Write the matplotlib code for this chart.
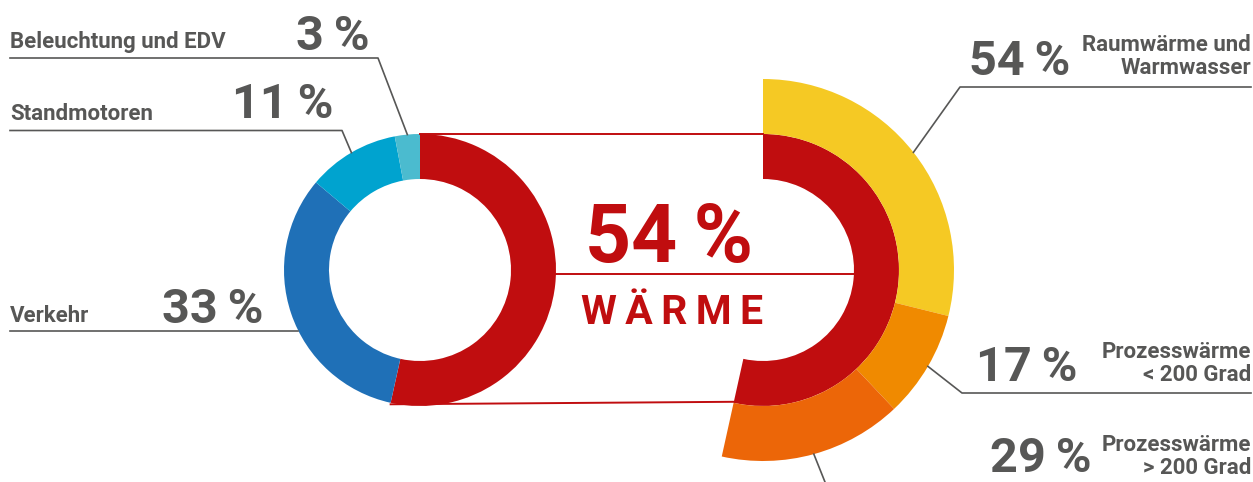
import numpy as np
import matplotlib.pyplot as plt

# Data
uses = ["Wärme", "Verkehr", "Standmotoren", "Beleuchtung und EDV"]
use_shares = [54, 33, 11, 3]
use_colors = ["#c00d0f", "#1f70b7", "#00a3cf", "#4bbbcf"]

heat_types = ["Raumwärme und\nWarmwasser", "Prozesswärme\n< 200 Grad", "Prozesswärme\n> 200 Grad"]
heat_shares = [54, 17, 29]
heat_colors = ["#f5c924", "#f08a00", "#ec6608"]

grey = "#575756"
red = "#c00d0f"
font = ["Roboto", "DejaVu Sans"]

W, H = 1253, 482
fig = plt.figure(figsize=(W / 100, H / 100), dpi=100)
ax = fig.add_axes([0, 0, 1, 1])

# pixel layout (y measured from top)
left_c = (420, 270)
right_c = (763, 270)
r_out, ring_w, r_big = 136, 45, 191


def P(x, y):
    return x, H - y


def pct(v):
    return f"{v}\u2009%"


total = sum(use_shares)

# left donut
ax.pie(use_shares, colors=use_colors, startangle=90, counterclock=False,
       radius=r_out, center=P(*left_c), wedgeprops=dict(width=ring_w, linewidth=0))

# right: red heat ring + heat breakdown
rest = total - use_shares[0]
ax.pie([use_shares[0], rest], colors=[red, "none"], startangle=90, counterclock=False,
       radius=r_out, center=P(*right_c), wedgeprops=dict(width=ring_w, linewidth=0))
scaled = [v * use_shares[0] / sum(heat_shares) for v in heat_shares]
ax.pie(scaled + [rest], colors=heat_colors + ["none"], startangle=90, counterclock=False,
       radius=r_big, center=P(*right_c), wedgeprops=dict(width=r_big - r_out, linewidth=0))

ax.set_xlim(0, W)
ax.set_ylim(0, H)
ax.set_aspect("equal")
ax.axis("off")


def pt(c, r, ang):
    a = np.radians(ang)
    return c[0] + r * np.cos(a), c[1] - r * np.sin(a)


# angles of wedges (degrees, clockwise from top)
bounds = 90 - np.cumsum([0] + use_shares) / total * 360
red_end = bounds[1]

# red connecting lines
ax.plot(*zip(P(left_c[0], left_c[1] - r_out), P(right_c[0], right_c[1] - r_out)), color=red, lw=1.4)
lx, ly = pt(left_c, r_out, red_end)
rx, ry = pt(right_c, r_out, red_end)
ax.plot(*zip(P(lx, ly + 1.5), P(rx, ry - 1)), color=red, lw=1.4)
ax.plot(*zip(P(left_c[0] + r_out, 274), P(right_c[0] + r_out - ring_w, 274)), color=red, lw=1.4)

ax.text(*P(669, 262), pct(use_shares[0]), color=red, fontsize=58, fontweight="bold", family=font,
        ha="center", va="baseline")
ax.text(*P(672, 324), "W\u2009Ä\u2009R\u2009M\u2009E", color=red, fontsize=29.5, fontweight="bold",
        family=font, ha="center", va="baseline")

# left labels
lab_fs, pct_fs = 16, 35
mid = lambda i: (bounds[i] + bounds[i + 1]) / 2

# Beleuchtung
ex, ey = pt(left_c, r_out, mid(3))
ax.plot(*zip(P(10, 58), P(378, 58), P(ex, ey)), color=grey, lw=1.2)
ax.text(*P(10, 48), uses[3], color=grey, fontsize=lab_fs, fontweight="bold", family=font, va="baseline")
ax.text(*P(370, 50), pct(use_shares[3]), color=grey, fontsize=pct_fs, fontweight="bold", family=font,
        ha="right", va="baseline")

# Standmotoren
ex, ey = pt(left_c, r_out, mid(2))
ax.plot(*zip(P(10, 130.5), P(342, 130.5), P(ex, ey)), color=grey, lw=1.2)
ax.text(*P(10, 119.5), uses[2], color=grey, fontsize=lab_fs, fontweight="bold", family=font, va="baseline")
ax.text(*P(333, 118), pct(use_shares[2]), color=grey, fontsize=pct_fs, fontweight="bold", family=font,
        ha="right", va="baseline")

# Verkehr
vy = 331
vx = left_c[0] - np.sqrt(r_out ** 2 - (vy - left_c[1]) ** 2)
ax.plot(*zip(P(10, vy), P(vx, vy)), color=grey, lw=1.2)
ax.text(*P(10, 322), uses[1], color=grey, fontsize=lab_fs, fontweight="bold", family=font, va="baseline")
ax.text(*P(263, 323), pct(use_shares[1]), color=grey, fontsize=pct_fs, fontweight="bold", family=font,
        ha="right", va="baseline")

# right labels
hb = 90 - np.cumsum([0] + scaled) / total * 360
hmid = lambda i: (hb[i] + hb[i + 1]) / 2

ex, ey = pt(right_c, r_big, hmid(0))
ax.plot(*zip(P(ex, ey), P(960, 87), P(1251, 87)), color=grey, lw=1.2)
ax.text(*P(1070, 75), pct(heat_shares[0]), color=grey, fontsize=pct_fs, fontweight="bold", family=font,
        ha="right", va="baseline")
ax.text(*P(1251, 74), heat_types[0], color=grey, fontsize=lab_fs, fontweight="bold", family=font,
        ha="right", va="baseline", multialignment="right", linespacing=1.05)

ex, ey = pt(right_c, r_big, hmid(1))
ax.plot(*zip(P(ex, ey), P(962, 393), P(1251, 393)), color=grey, lw=1.2)
ax.text(*P(1078, 381), pct(heat_shares[1]), color=grey, fontsize=pct_fs, fontweight="bold", family=font,
        ha="right", va="baseline")
ax.text(*P(1251, 381), heat_types[1], color=grey, fontsize=lab_fs, fontweight="bold", family=font,
        ha="right", va="baseline", multialignment="right", linespacing=1.05)

ex, ey = pt(right_c, r_big, hmid(2))
ax.plot(*zip(P(ex, ey), P(ex + 14, ey + 35)), color=grey, lw=1.2)
ax.text(*P(1092, 472), pct(heat_shares[2]), color=grey, fontsize=pct_fs, fontweight="bold", family=font,
        ha="right", va="baseline")
ax.text(*P(1251, 474), heat_types[2], color=grey, fontsize=lab_fs, fontweight="bold", family=font,
        ha="right", va="baseline", multialignment="right", linespacing=1.05)

fig.savefig("out.png", dpi=100)
